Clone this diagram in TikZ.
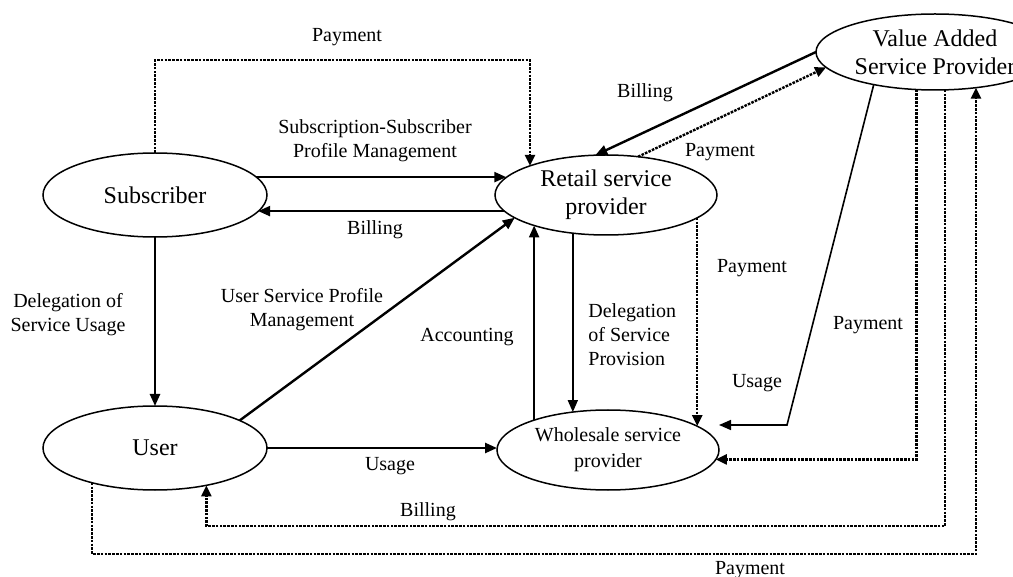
\documentclass[tikz,border=0pt]{standalone}
\usepackage{fontspec}
\setmainfont{Liberation Serif}
\usetikzlibrary{arrows.meta,shapes.geometric}
\begin{document}
\begin{tikzpicture}[x=0.5pt,y=-0.5pt,
  party/.style={ellipse,draw,line width=0.75pt,inner sep=0pt,outer sep=0pt,
    font=\fontsize{12}{14}\selectfont,align=center},
  lbl/.style={font=\fontsize{10}{12}\selectfont,align=center,inner sep=0pt},
  flow/.style={line width=1.2pt,-{Triangle[length=6pt,width=5pt]}},
  flowthin/.style={line width=0.8pt,-{Triangle[length=6pt,width=5pt]}},
  pay/.style={line width=1.2pt,dash pattern=on 1.3pt off 0.6pt,-{Triangle[length=5.5pt,width=5pt]}}]
\useasboundingbox (0,0) rectangle (1013,577);
\clip (0,0) rectangle (1013,577);
% nodes
\node[party,minimum width=112pt,minimum height=42pt] (sub) at (155,195) {Subscriber};
\node[party,minimum width=111pt,minimum height=40pt] (ret) at (606,195) {Retail service\\provider};
\node[party,minimum width=119pt,minimum height=38pt] (vasp) at (935,52) {Value Added\\Service Provider};
\node[party,minimum width=112pt,minimum height=42pt] (user) at (155,448) {User};
\node[party,minimum width=111pt,minimum height=40pt,font=\fontsize{10}{13}\selectfont] (whole) at (608,450) {Wholesale service\\provider};
% helper coordinates
\coordinate (ytop) at (0,60);
\coordinate (ybill) at (0,526);
\coordinate (ypay) at (0,554);
\coordinate (ubend) at (787,425);
% connectors
\draw[pay] (sub.north) -- (sub.north |- ytop) -| (ret.159.5);
\draw[flow] (sub.10) -- (sub.10 -| ret.170);
\draw[flow] (ret.189) -- (ret.189 -| sub.351);
\draw[flow] (sub.south) -- (user.north);
\draw[flow] (user.18.6) -- (ret.194);
\draw[flow] (user.east) -- (user.east -| whole.west);
\draw[flow] (whole.158) -- (whole.158 |- ret.203);
\draw[flowthin] (ret.229) -- (ret.229 |- whole.133);
\draw[flow] (vasp.west) -- (ret.105);
\draw[pay] (ret.50) -- (vasp.188);
\draw[pay] (ret.346) -- (ret.346 |- whole.15);
\draw[flowthin] (vasp.208) -- (ubend) -- (whole.east |- ubend);
\draw[pay] (vasp.244.4) |- (whole.-5);
\draw[pay] (vasp.285) -- (vasp.285 |- ybill) -| (user.324);
\draw[pay] (user.209) -- (user.209 |- ypay) -| (vasp.319);
% labels
\node[lbl] (l1) at (347,37) {Payment};
\node[lbl] (l2) at (375,141) {Subscription-Subscriber\\Profile Management};
\node[lbl] (l3) at (375,230) {Billing};
\node[lbl] (l4) at (68,315) {Delegation of\\Service Usage};
\node[lbl] (l5) at (302,310) {User Service Profile\\Management};
\node[lbl] (l6) at (467,337) {Accounting};
\node[lbl,align=left,anchor=west] (l7) at (588,335) {Delegation\\of Service\\Provision};
\node[lbl] (l8) at (390,466) {Usage};
\node[lbl] (l9) at (645,93) {Billing};
\node[lbl] (l10) at (720,152) {Payment};
\node[lbl] (l11) at (752,268) {Payment};
\node[lbl] (l12) at (868,325) {Payment};
\node[lbl] (l13) at (757,383) {Usage};
\node[lbl] (l14) at (428,512) {Billing};
\node[lbl] (l15) at (750,570) {Payment};
\end{tikzpicture}
\end{document}
